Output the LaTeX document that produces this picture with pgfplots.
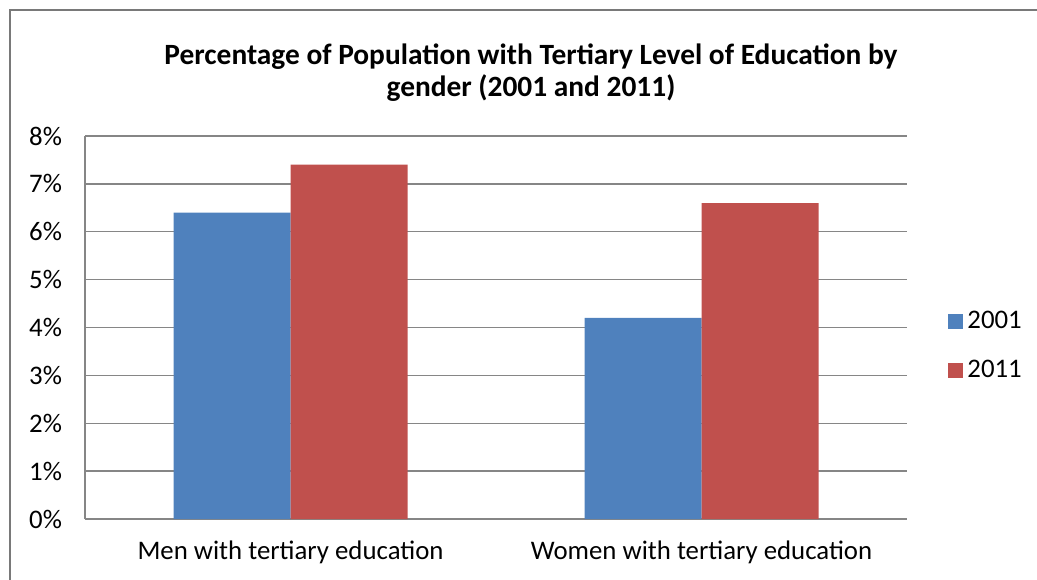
\documentclass[border=0pt]{standalone}
\usepackage{fontspec}
\setmainfont{Carlito}
\usepackage{pgfplots}
\pgfplotsset{compat=1.18}
\definecolor{cblue}{HTML}{4F81BD}
\definecolor{cred}{HTML}{C0504D}
\definecolor{cgrid}{HTML}{868686}
\begin{document}
\begin{tikzpicture}
\useasboundingbox (0,0) rectangle (518.5pt,289.5pt);
\begin{scope}
\clip (0,0) rectangle (518.5pt,289.5pt);
\draw[color=cgrid!90!black, line width=0.9pt] (5pt,-10pt) -- (5pt,284.5pt) -- (540pt,284.5pt);
\end{scope}
\begin{axis}[
  at={(42.5pt,30pt)}, anchor=south west,
  scale only axis, width=411pt, height=191.5pt,
  xmin=-0.5, xmax=1.5, ymin=0, ymax=8,
  ybar=0pt, bar width=58.5pt,
  xtick={0,1}, xticklabels={Men with tertiary education, Women with tertiary education},
  ytick={0,1,...,8},
  yticklabel={\pgfmathprintnumber{\tick}\%},
  /pgf/number format/assume math mode=true,
  major tick length=0pt,
  ymajorgrids, grid style={cgrid, line width=0.7pt},
  axis line style={cgrid, line width=0.7pt},
  axis x line*=bottom, axis y line*=left,
  tick label style={font=\fontsize{13.4}{16}\selectfont},
  yticklabel style={xshift=-8pt},
  xticklabel style={yshift=-7.5pt},
  title={Percentage of Population with Tertiary Level of Education by\\gender (2001 and 2011)},
  title style={font=\fontsize{14.7}{16}\selectfont\bfseries, align=center, at={(axis description cs:0.5426,1.1345)}, anchor=center},
  legend style={at={(axis description cs:1.0499,0.4517)}, anchor=west, draw=none, fill=none, inner sep=0pt, font=\fontsize{13.4}{16}\selectfont, row sep=10.5pt, nodes={inner sep=2pt}},
  legend cell align=left,
  legend image code/.code={\fill[#1] (0pt,-3.75pt) rectangle (7.5pt,3.75pt);},
]
\addplot[fill=cblue, draw=none] coordinates {(0,6.4) (1,4.2)};
\addplot[fill=cred, draw=none] coordinates {(0,7.4) (1,6.6)};
\legend{2001,2011}
\end{axis}
\end{tikzpicture}
\end{document}
